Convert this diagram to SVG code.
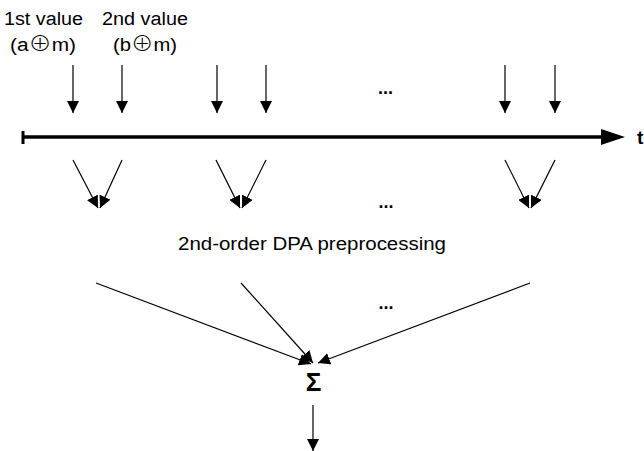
<svg xmlns="http://www.w3.org/2000/svg" width="644" height="451" viewBox="0 0 644 451">
<style>
text{font-family:"Liberation Sans",Arial,sans-serif;fill:#000}
.lbl{font-size:18px}
.dots{font-size:18px;font-weight:bold;text-anchor:middle}
.ca{stroke:#000;stroke-width:1.2;fill:none;marker-end:url(#ah)}
.ox{font-family:"Noto Sans CJK JP","DejaVu Sans",sans-serif;font-size:20px;font-weight:300}
</style>
<defs>
<marker id="ah" markerUnits="userSpaceOnUse" markerWidth="12" markerHeight="12" refX="12" refY="6" orient="auto">
<path d="M0,0 L12,6 L0,12 z" fill="#000"/>
</marker>
</defs>
<rect width="644" height="451" fill="#fff"/>
<g id="label-first">
<text class="lbl" x="4" y="25" textLength="79" lengthAdjust="spacingAndGlyphs">1st value</text>
<text class="lbl" x="10" y="51" textLength="66" lengthAdjust="spacingAndGlyphs">(a<tspan class="ox">⊕</tspan>m)</text>
</g>
<g id="label-second">
<text class="lbl" x="102" y="25" textLength="86" lengthAdjust="spacingAndGlyphs">2nd value</text>
<text class="lbl" x="113" y="51" textLength="64" lengthAdjust="spacingAndGlyphs">(b<tspan class="ox">⊕</tspan>m)</text>
</g>
<g id="time-axis">
<line x1="23" y1="137" x2="603" y2="137" stroke="#000" stroke-width="3.5"/>
<line x1="23" y1="131" x2="23" y2="144" stroke="#000" stroke-width="3"/>
<polygon points="601,129 625,137 601,145" fill="#000"/>
<text x="637" y="144" font-size="19" font-weight="bold">t</text>
</g>
<g id="dots-top"><text class="dots" x="385.5" y="94">...</text></g>
<g id="dots-mid"><text class="dots" x="386" y="208">...</text></g>
<g id="dots-bottom"><text class="dots" x="386" y="309">...</text></g>
<g id="label-preprocessing">
<text class="lbl" x="178" y="250" textLength="268" lengthAdjust="spacingAndGlyphs">2nd-order DPA preprocessing</text>
</g>
<g id="sigma">
<text x="313.5" y="391" font-size="26" font-weight="bold" text-anchor="middle">Σ</text>
</g>
<g id="connectors">
<line class="ca" x1="73" y1="65" x2="73" y2="113"/>
<line class="ca" x1="122" y1="65" x2="122" y2="113"/>
<line class="ca" x1="217" y1="65" x2="217" y2="113"/>
<line class="ca" x1="266" y1="65" x2="266" y2="113"/>
<line class="ca" x1="505" y1="65" x2="505" y2="113"/>
<line class="ca" x1="555" y1="65" x2="555" y2="113"/>
<line class="ca" x1="73" y1="160" x2="98" y2="208"/>
<line class="ca" x1="122" y1="160" x2="100" y2="208"/>
<line class="ca" x1="216" y1="160" x2="240" y2="208"/>
<line class="ca" x1="266" y1="160" x2="242" y2="208"/>
<line class="ca" x1="505" y1="160" x2="529" y2="208"/>
<line class="ca" x1="555" y1="160" x2="531" y2="208"/>
<line class="ca" x1="96" y1="283" x2="311" y2="364"/>
<line class="ca" x1="241" y1="283" x2="313" y2="363"/>
<line class="ca" x1="530" y1="283" x2="318" y2="363"/>
<line class="ca" x1="313" y1="405" x2="313" y2="451"/>
</g>
</svg>
